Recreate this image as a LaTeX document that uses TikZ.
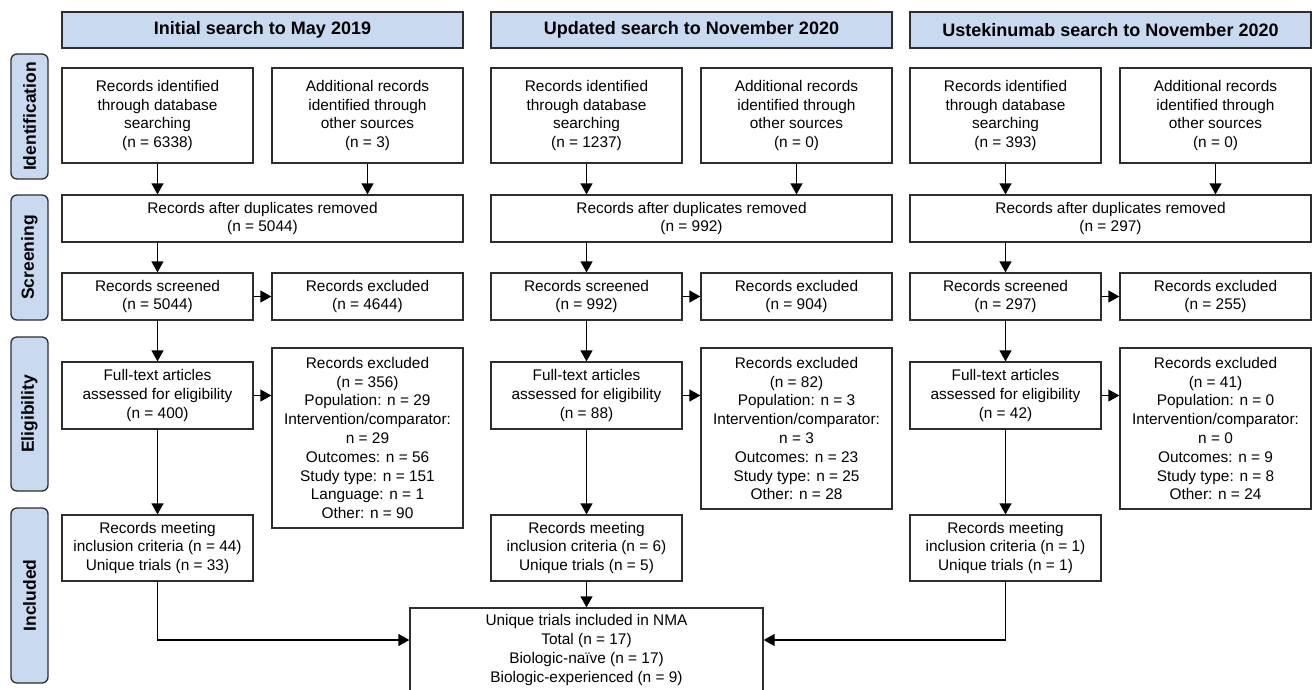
\documentclass[tikz,border=0pt]{standalone}
\usepackage{fontspec}
\setmainfont{Liberation Sans}
\usetikzlibrary{arrows.meta}
\definecolor{hdr}{RGB}{201,218,240}
\definecolor{edge}{RGB}{45,45,45}
\begin{document}
\begin{tikzpicture}[x=1pt,y=-1pt,
  box/.style={draw=edge, line width=1.3pt, fill=white, align=center, inner sep=2pt,
    font=\fontsize{15.4}{18.8}\selectfont},
  lbox/.style={box, minimum width=191pt},
  wbox/.style={box, minimum width=401pt, minimum height=47pt},
  hbox/.style={draw=edge, line width=1.3pt, fill=hdr, minimum width=401pt, minimum height=36pt,
    font=\bfseries\fontsize{18}{20}\selectfont},
  side/.style={draw=edge, line width=1.3pt, fill=hdr, rounded corners=6pt, rotate=90,
    minimum height=37pt, font=\bfseries\fontsize{17.5}{20}\selectfont},
  arr/.style={line width=1.3pt, -{Triangle[length=11pt,width=12pt]}}]
\useasboundingbox (0,0) rectangle (1313,689);
\coordinate (yline) at (0,640);

% side labels
\node[side, minimum width=125pt] (sid) at (29.5,116.5) {Identification};
\node[side, minimum width=125pt] (ssc) at (29.5,257.5) {Screening};
\node[side, minimum width=154pt] (sel) at (29.5,414) {Eligibility};
\node[side, minimum width=175pt] (sin) at (29.5,595.5) {Included};

% column 1
\node[hbox] (h1) at (262.5,30) {Initial search to May 2019};
\node[lbox, minimum height=95pt] (a1) at (157.5,115.5) {Records identified\\through database\\searching\\(n = 6338)};
\node[lbox, minimum height=95pt] (b1) at (367.5,115.5) {Additional records\\identified through\\other sources\\(n = 3)};
\node[wbox] (d1) at (262.5,218.5) {Records after duplicates removed\\(n = 5044)};
\node[lbox, minimum height=47pt] (s1) at (157.5,296.5) {Records screened\\(n = 5044)};
\node[lbox, minimum height=47pt] (x1) at (367.5,296.5) {Records excluded\\(n = 4644)};
\node[lbox, minimum height=67pt] (f1) at (157.5,395.5) {Full-text articles\\assessed for eligibility\\(n = 400)};
\node[lbox, minimum height=180pt] (e1) at (367.5,438) {Records excluded\\(n = 356)\\Population: n = 29\\Intervention/comparator:\\n = 29\\Outcomes: n = 56\\Study type: n = 151\\Language: n = 1\\Other: n = 90};
\node[lbox, minimum height=66pt] (m1) at (157.5,548) {Records meeting\\inclusion criteria (n = 44)\\Unique trials (n = 33)};

% column 2
\node[hbox] (h2) at (691.5,30) {Updated search to November 2020};
\node[lbox, minimum height=95pt] (a2) at (586.5,115.5) {Records identified\\through database\\searching\\(n = 1237)};
\node[lbox, minimum height=95pt] (b2) at (796.5,115.5) {Additional records\\identified through\\other sources\\(n = 0)};
\node[wbox] (d2) at (691.5,218.5) {Records after duplicates removed\\(n = 992)};
\node[lbox, minimum height=47pt] (s2) at (586.5,296.5) {Records screened\\(n = 992)};
\node[lbox, minimum height=47pt] (x2) at (796.5,296.5) {Records excluded\\(n = 904)};
\node[lbox, minimum height=67pt] (f2) at (586.5,395.5) {Full-text articles\\assessed for eligibility\\(n = 88)};
\node[lbox, minimum height=161pt] (e2) at (796.5,428.5) {Records excluded\\(n = 82)\\Population: n = 3\\Intervention/comparator:\\n = 3\\Outcomes: n = 23\\Study type: n = 25\\Other: n = 28};
\node[lbox, minimum height=66pt] (m2) at (586.5,548) {Records meeting\\inclusion criteria (n = 6)\\Unique trials (n = 5)};

% column 3
\node[hbox] (h3) at (1110.5,30) {Ustekinumab search to November 2020};
\node[lbox, minimum height=95pt] (a3) at (1005.5,115.5) {Records identified\\through database\\searching\\(n = 393)};
\node[lbox, minimum height=95pt] (b3) at (1215.5,115.5) {Additional records\\identified through\\other sources\\(n = 0)};
\node[wbox] (d3) at (1110.5,218.5) {Records after duplicates removed\\(n = 297)};
\node[lbox, minimum height=47pt] (s3) at (1005.5,296.5) {Records screened\\(n = 297)};
\node[lbox, minimum height=47pt] (x3) at (1215.5,296.5) {Records excluded\\(n = 255)};
\node[lbox, minimum height=67pt] (f3) at (1005.5,395.5) {Full-text articles\\assessed for eligibility\\(n = 42)};
\node[lbox, minimum height=161pt] (e3) at (1215.5,428.5) {Records excluded\\(n = 41)\\Population: n = 0\\Intervention/comparator:\\n = 0\\Outcomes: n = 9\\Study type: n = 8\\Other: n = 24};
\node[lbox, minimum height=66pt] (m3) at (1005.5,548) {Records meeting\\inclusion criteria (n = 1)\\Unique trials (n = 1)};

% final box
\node[box, minimum width=353pt, minimum height=84pt] (fin) at (586.5,650) {Unique trials included in NMA\\Total (n = 17)\\Biologic-naïve (n = 17)\\Biologic-experienced (n = 9)};

% connectors
\foreach \c in {1,2,3} {
  \draw[arr] (a\c.south) -- (a\c.south |- d\c.north);
  \draw[arr] (b\c.south) -- (b\c.south |- d\c.north);
  \draw[arr] (d\c.south -| s\c.south) -- (s\c.north);
  \draw[arr] (s\c.east) -- (x\c.west);
  \draw[arr] (s\c.south) -- (f\c.north);
  \draw[arr] (f\c.east) -- (f\c.east -| e\c.west);
  \draw[arr] (f\c.south) -- (m\c.north);
}
\draw[arr] (m1.south) |- (fin.west |- yline);
\draw[arr] (m2.south) -- (fin.north);
\draw[arr] (m3.south) |- (fin.east |- yline);
\end{tikzpicture}
\end{document}
